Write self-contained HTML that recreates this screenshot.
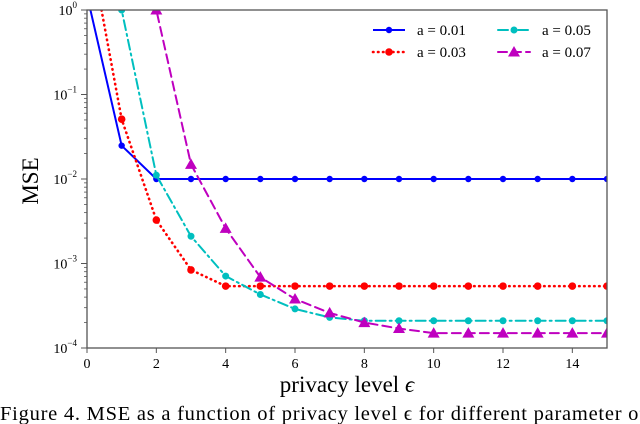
<!DOCTYPE html>
<html><head><meta charset="utf-8"><style>
html,body{margin:0;padding:0;background:#fff;width:640px;height:424px;overflow:hidden}
svg text{font-family:"Liberation Serif",serif}
</style></head><body>
<svg id="chart" width="640" height="424" xmlns="http://www.w3.org/2000/svg">
<defs><clipPath id="plotclip"><rect x="87" y="10" width="520" height="338"/></clipPath></defs>
<g id="axes"></g>
<g id="series" clip-path="url(#plotclip)"></g>
<rect x="87" y="10" width="520" height="338" fill="none" stroke="#555" stroke-width="1.3"/>
<text transform="translate(38,181) rotate(-90)" text-anchor="middle" font-size="23">MSE</text>
<text x="347" y="392" text-anchor="middle" font-size="23">privacy level <tspan font-style="italic">ϵ</tspan></text>
<text x="0" y="420" font-size="20.5" textLength="646" lengthAdjust="spacing">Figure 4.  MSE as a function of privacy level ϵ for different parameter of</text>
<g id="legend"></g>
</svg>
<script>
const xValues=[0,1,2,3,4,5,6,7,8,9,10,11,12,13,14,15];
const seriesA001=[1.5,0.0248,0.01,0.01,0.01,0.01,0.01,0.01,0.01,0.01,0.01,0.01,0.01,0.01,0.01,0.01];
const seriesA003=[8.5,0.051,0.00327,0.00084,0.00054,0.00054,0.00054,0.00054,0.00054,0.00054,0.00054,0.00054,0.00054,0.00054,0.00054,0.00054];
const seriesA005=[30,1.0,0.0111,0.0021,0.00071,0.00043,0.00029,0.00023,0.00021,0.00021,0.00021,0.00021,0.00021,0.00021,0.00021,0.00021];
const seriesA007=[300,20,1.0,0.0149,0.0026,0.00069,0.00038,0.00026,0.0002,0.00017,0.00015,0.00015,0.00015,0.00015,0.00015,0.00015];
const xTicks=[0,2,4,6,8,10,12,14];
const yTickExps=[0,-1,-2,-3,-4];
const seriesLabels=["a = 0.01","a = 0.03","a = 0.05","a = 0.07"];

const NS="http://www.w3.org/2000/svg";
const L=87,R=607,T=10,B=348;
const xs=v=>L+(v-0)/(15-0)*(R-L);
const ys=v=>T+(0-Math.log10(v))/4*(B-T);
function mk(tag,attrs,parent){const e=document.createElementNS(NS,tag);for(const k in attrs)e.setAttribute(k,attrs[k]);parent.appendChild(e);return e;}
const axes=document.getElementById('axes');
xTicks.forEach(t=>{
  const x=xs(t);
  const tk=mk('line',{x1:x,x2:x,y1:B,y2:B+5,stroke:'#555','stroke-width':1},axes);
  
  
  const lb=mk('text',{x:x,y:B+20,'text-anchor':'middle','font-size':14},axes);
  
  
  lb.textContent=t;
});
yTickExps.forEach(e=>{
  const y=ys(Math.pow(10,e));
  const tk=mk('line',{x1:L-6,x2:L,y1:y,y2:y,stroke:'#555','stroke-width':1},axes);
  
  
  const lb=mk('text',{x:L-10,y:y+5,'text-anchor':'end','font-size':14},axes);
  
  
  lb.innerHTML='10<tspan dy="-7" font-size="9">'+(e===0?'0':'−'+(-e))+'</tspan>';
  if(e>-4){for(let m=2;m<=9;m++){const yy=ys(m*Math.pow(10,e-1));
    const mt=mk('line',{x1:L-3,x2:L,y1:yy,y2:yy,stroke:'#555','stroke-width':0.8},axes);
    
    }}
});
const styles=[
 {data:seriesA001,color:'#0000ff',dash:'',marker:'circle',r:3.2,w:2,name:'series-a-0-01'},
 {data:seriesA003,color:'#ff0000',dash:'0.5 4.5',marker:'circle',r:3.8,w:2.6,name:'series-a-0-03'},
 {data:seriesA005,color:'#00bfbf',dash:'10 4 2 4',marker:'circle',r:3.5,w:2,name:'series-a-0-05'},
 {data:seriesA007,color:'#bf00bf',dash:'9 5',marker:'tri',r:6,w:2,name:'series-a-0-07'}
];
const sg=document.getElementById('series');
function marker(s,x,y,parent){
  if(s.marker==='circle'){return mk('circle',{cx:x,cy:y,r:s.r,fill:s.color},parent);}
  const r=s.r;return mk('polygon',{points:`${x},${y-r} ${x-r},${y+r*0.75} ${x+r},${y+r*0.75}`,fill:s.color},parent);
}
styles.forEach(s=>{
  const g=mk('g',{},sg);
  
  
  const d=s.data.map((v,i)=>(i?'L':'M')+xs(xValues[i])+','+ys(v)).join(' ');
  const p=mk('path',{d:d,fill:'none',stroke:s.color,'stroke-width':s.w,'stroke-dasharray':s.dash,'stroke-linecap':s.dash?'round':'butt'},g);
  
  
  s.data.forEach((v,i)=>{const m=marker(s,xs(xValues[i]),ys(v),g);
    
    });
});
const lg=document.getElementById('legend');
const pos=[[373,30],[373,52],[498,30],[498,52]];
styles.forEach((s,i)=>{
  const [x,y]=pos[i];
  const g=mk('g',{},lg);
  
  
  mk('line',{x1:x,x2:x+32,y1:y,y2:y,stroke:s.color,'stroke-width':s.w,'stroke-dasharray':s.dash,'stroke-linecap':s.dash?'round':'butt'},g);
  marker(s,x+16,y,g);
  const t=mk('text',{x:x+44,y:y+5,'font-size':15},g);
  t.textContent=seriesLabels[i];
});
</script>
</body></html>
